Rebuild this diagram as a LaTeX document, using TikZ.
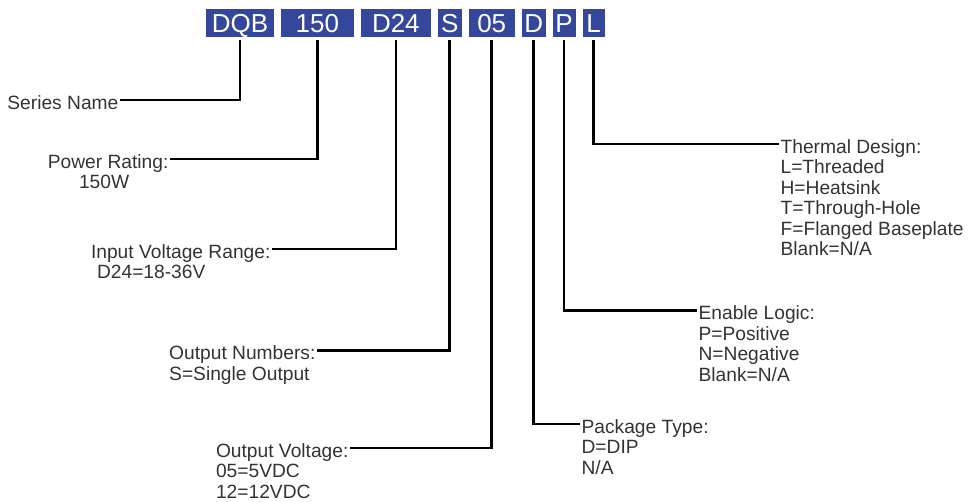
\documentclass[tikz,border=0pt]{standalone}
\usepackage{fontspec}
\setmainfont{Liberation Sans}
\usepackage{xcolor}
\usetikzlibrary{positioning}
\definecolor{codeblue}{RGB}{52,71,154}

\begin{document}
\begin{tikzpicture}[x=0.75pt,y=-0.75pt,
  code/.style={rectangle, fill=codeblue, text=white,
    font=\fontsize{19.5pt}{21pt}\selectfont,
    minimum height=21pt, text height=14pt, text depth=0pt, inner sep=0pt},
  lbl/.style={font=\fontsize{14.4pt}{15pt}\selectfont, text=black!80,
    text height=14.4pt, text depth=0.6pt, inner xsep=1pt, inner ysep=0pt},
  wire/.style={line width=2pt}
]
\useasboundingbox (0,0) rectangle (968,502);

% part number boxes
\node[code, minimum width=51pt] (bDQB) at (240,23) {DQB};
\node[code, minimum width=54.75pt, right=4.8pt of bDQB] (b150) {150};
\node[code, minimum width=52.5pt, right=4.8pt of b150] (bD24) {D24};
\node[code, minimum width=18pt, right=4.8pt of bD24] (bS) {S};
\node[code, minimum width=34.5pt, right=4.8pt of bS] (b05) {05};
\node[code, minimum width=18pt, right=4.8pt of b05] (bD) {D};
\node[code, minimum width=17.25pt, right=4.8pt of bD] (bP) {P};
\node[code, minimum width=16.5pt, right=4.8pt of bP] (bL) {L};

% labels, left side
\node[lbl, anchor=east] (series) at (120,100) {Series Name};
\node[lbl, anchor=east] (power) at (170,159) {Power Rating:};
\node[lbl, below=0pt of power, xshift=-3pt] (powerA) {150W};
\node[lbl, anchor=east] (input) at (272,249) {Input Voltage Range:};
\node[lbl, below=0pt of input.south west, anchor=north west, xshift=4.5pt] (inputA) {D24=18-36V};
\node[lbl, anchor=east] (outnum) at (317,350.5) {Output Numbers:};
\node[lbl, below=0pt of outnum.south west, anchor=north west] (outnumA) {S=Single Output};
\node[lbl, anchor=east] (outvolt) at (350,448) {Output Voltage:};
\node[lbl, below=0pt of outvolt.south west, anchor=north west] (outvoltA) {05=5VDC};
\node[lbl, below=0pt of outvoltA.south west, anchor=north west] (outvoltB) {12=12VDC};

% labels, right side
\node[lbl, anchor=west] (package) at (580,424) {Package Type:};
\node[lbl, below=0pt of package.south west, anchor=north west] (packageA) {D=DIP};
\node[lbl, below=0pt of packageA.south west, anchor=north west] (packageB) {N/A};
\node[lbl, anchor=west] (enable) at (697,310.5) {Enable Logic:};
\node[lbl, below=0pt of enable.south west, anchor=north west] (enableA) {P=Positive};
\node[lbl, below=0pt of enableA.south west, anchor=north west] (enableB) {N=Negative};
\node[lbl, below=0pt of enableB.south west, anchor=north west] (enableC) {Blank=N/A};
\node[lbl, anchor=west] (thermal) at (779,144) {Thermal Design:};
\node[lbl, below=0pt of thermal.south west, anchor=north west] (thermalA) {L=Threaded};
\node[lbl, below=0pt of thermalA.south west, anchor=north west] (thermalB) {H=Heatsink};
\node[lbl, below=0pt of thermalB.south west, anchor=north west] (thermalC) {T=Through-Hole};
\node[lbl, below=0pt of thermalC.south west, anchor=north west] (thermalD) {F=Flanged Baseplate};
\node[lbl, below=0pt of thermalD.south west, anchor=north west] (thermalE) {Blank=N/A};

% leaders
\draw[wire] ([yshift=-2.25pt]bDQB.south) |- (series.east);
\draw[wire] ([yshift=-2.25pt]b150.south) |- (power.east);
\draw[wire] ([yshift=-2.25pt]bD24.south) |- (input.east);
\draw[wire] ([yshift=-2.25pt]bS.south) |- (outnum.east);
\draw[wire] ([yshift=-2.25pt]b05.south) |- (outvolt.east);
\draw[wire] ([yshift=-2.25pt]bD.south) |- (package.west);
\draw[wire] ([yshift=-2.25pt]bP.south) |- (enable.west);
\draw[wire] ([yshift=-2.25pt]bL.south) |- (thermal.west);
\end{tikzpicture}
\end{document}
